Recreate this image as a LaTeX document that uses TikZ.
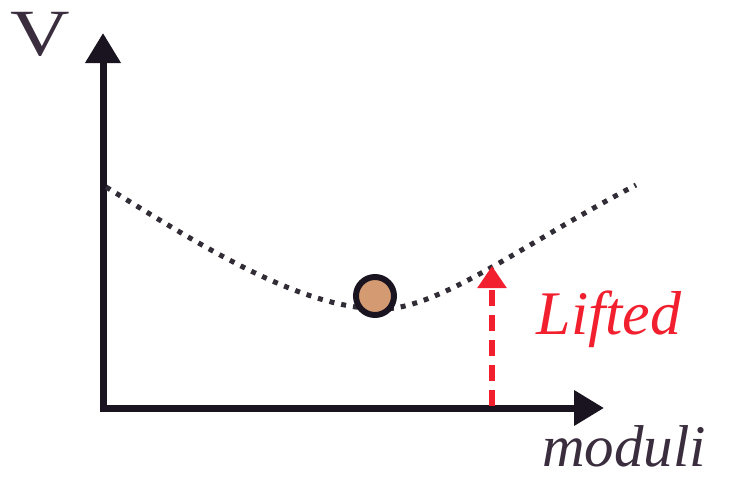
\documentclass[tikz,border=0pt]{standalone}
\usepackage{fontspec}
\setmainfont{Liberation Serif}
\usetikzlibrary{arrows.meta}
\definecolor{axiscol}{HTML}{1A1420}
\definecolor{liftred}{HTML}{F2202E}
\definecolor{ballfill}{HTML}{D49A72}
\definecolor{textcol}{HTML}{3A2E3E}
\tikzset{
  axis/.style={line width=7pt, draw=axiscol, -{Triangle[length=30pt,width=34pt]}},
  potential/.style={line width=5pt, draw=axiscol!90, dash pattern=on 5pt off 7pt},
  lift/.style={line width=6pt, draw=liftred, dash pattern=on 16pt off 9pt, -{Triangle[length=22pt,width=28pt]}},
  ball/.style={circle, draw=axiscol, line width=6pt, fill=ballfill, minimum size=38pt, inner sep=0pt},
  lbl/.style={font=\fontsize{62}{62}\selectfont\itshape, inner sep=0pt}
}
\begin{document}
\begin{tikzpicture}[x=1pt,y=-1pt]
\useasboundingbox (0,0) rectangle (731,479);
\coordinate (O) at (103,408);
\coordinate (Ytip) at (103,33);
\coordinate (Xtip) at (604,408);
\draw[axis] (O) -- (Ytip);
\draw[axis] ([xshift=-3.5pt]O) -- (Xtip);
\coordinate (P0) at (106,187);
\coordinate (Pmin) at (382,309);
\coordinate (P1) at (636,185);
\draw[potential] (P0) .. controls (200,245) and (300,309) .. (Pmin) .. controls (440,309) and (530,240) .. (P1);
\coordinate (Lbase) at (492,406);
\coordinate (Ltop) at (492,266);
\draw[lift] (Lbase) -- (Ltop);
\node[ball] (B) at (375,296) {};
\node[lbl, text=liftred] (lifted) at (609,319) {Lifted};
\node[lbl, font=\fontsize{59}{59}\selectfont\itshape, text=textcol, anchor=base, text depth=0pt] (moduli) at (624,466) {moduli};
\node[font=\fontsize{66}{66}\selectfont, text=textcol, inner sep=0pt, xscale=1.25] (V) at (40,34) {V};
\end{tikzpicture}
\end{document}
